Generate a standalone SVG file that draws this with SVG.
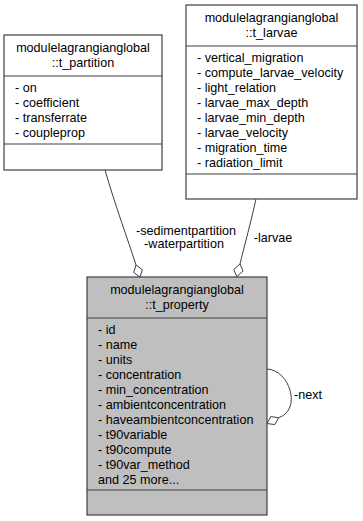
<svg xmlns="http://www.w3.org/2000/svg" width="363" height="521" viewBox="0 0 363 521">
  <style>
    .box { fill: #ffffff; stroke: #404040; stroke-width: 1.2; }
    .box.main { fill: #bfbfbf; }
    .sep { stroke: #404040; stroke-width: 1.2; }
    text { font-family: "Liberation Sans", Arial, sans-serif; font-size: 12.6px; fill: #000000; }
    .title { text-anchor: middle; }
    .edge { fill: none; stroke: #404040; stroke-width: 1; }
    .diamond { fill: #ffffff; stroke: #404040; stroke-width: 1; }
  </style>

  <!-- aggregation connectors -->
  <g id="connectors">
    <path class="edge" d="M105,170 C115,205 128,240 136,265"/>
    <polygon class="diamond" points="140,277 133.7,272.4 136,265 142.3,269.6"/>
    <text class="title" x="186" y="235">-sedimentpartition</text>
    <text class="title" x="184" y="248">-waterpartition</text>

    <path class="edge" d="M256,199 C251,222 245,243 240,264"/>
    <polygon class="diamond" points="236.9,276.6 233.7,269.6 240,264 243,271"/>
    <text class="title" x="273" y="242">-larvae</text>

    <path class="edge" d="M267,369 C290,370 302,410 278.6,417.7"/>
    <polygon class="diamond" points="267,423.5 270.8,416.6 278.6,417.7 274.8,424.6"/>
    <text x="294" y="399">-next</text>
  </g>

  <!-- modulelagrangianglobal::t_partition -->
  <g id="t_partition">
    <rect class="box" x="4" y="35" width="158" height="135"/>
    <line class="sep" x1="4" y1="76" x2="162" y2="76"/>
    <line class="sep" x1="4" y1="144" x2="162" y2="144"/>
    <text class="title" x="83" y="52">modulelagrangianglobal</text>
    <text class="title" x="83" y="67">::t_partition</text>
    <text x="15" y="92">- on</text>
    <text x="15" y="107">- coefficient</text>
    <text x="15" y="122">- transferrate</text>
    <text x="15" y="137">- coupleprop</text>
  </g>

  <!-- modulelagrangianglobal::t_larvae -->
  <g id="t_larvae">
    <rect class="box" x="186" y="5" width="171" height="194"/>
    <line class="sep" x1="186" y1="46" x2="357" y2="46"/>
    <line class="sep" x1="186" y1="174" x2="357" y2="174"/>
    <text class="title" x="271.5" y="22">modulelagrangianglobal</text>
    <text class="title" x="271.5" y="37">::t_larvae</text>
    <text x="197" y="62">- vertical_migration</text>
    <text x="197" y="77">- compute_larvae_velocity</text>
    <text x="197" y="92">- light_relation</text>
    <text x="197" y="107">- larvae_max_depth</text>
    <text x="197" y="122">- larvae_min_depth</text>
    <text x="197" y="137">- larvae_velocity</text>
    <text x="197" y="152">- migration_time</text>
    <text x="197" y="167">- radiation_limit</text>
  </g>

  <!-- modulelagrangianglobal::t_property -->
  <g id="t_property">
    <rect class="box main" x="87" y="277" width="180" height="238"/>
    <line class="sep" x1="87" y1="318" x2="267" y2="318"/>
    <line class="sep" x1="87" y1="490" x2="267" y2="490"/>
    <text class="title" x="177" y="294">modulelagrangianglobal</text>
    <text class="title" x="177" y="309">::t_property</text>
    <text x="98" y="334">- id</text>
    <text x="98" y="349">- name</text>
    <text x="98" y="364">- units</text>
    <text x="98" y="379">- concentration</text>
    <text x="98" y="394">- min_concentration</text>
    <text x="98" y="409">- ambientconcentration</text>
    <text x="98" y="424">- haveambientconcentration</text>
    <text x="98" y="439">- t90variable</text>
    <text x="98" y="454">- t90compute</text>
    <text x="98" y="469">- t90var_method</text>
    <text x="98" y="484">and 25 more...</text>
  </g>
</svg>
